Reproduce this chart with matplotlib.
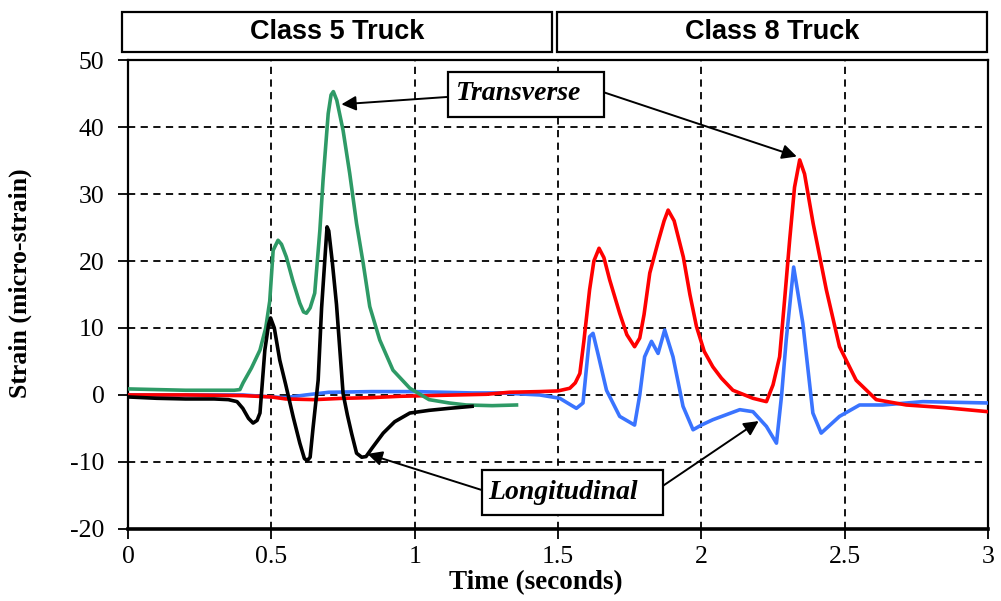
import matplotlib
matplotlib.use('Agg')
import matplotlib.pyplot as plt
from matplotlib.patches import Rectangle

plt.rcParams['axes.unicode_minus'] = False

# Class 5 truck - transverse (green)
c5_trans_t = [0, 0.1, 0.2, 0.3, 0.37, 0.39, 0.401, 0.43, 0.46, 0.48, 0.494, 0.506, 0.523, 0.535, 0.552,
              0.575, 0.599, 0.612, 0.622, 0.635, 0.651, 0.669, 0.68, 0.698, 0.708, 0.716, 0.728, 0.75,
              0.773, 0.797, 0.82, 0.843, 0.878, 0.924, 0.983, 1.05, 1.12, 1.18, 1.27, 1.355]
c5_trans_v = [0.9, 0.8, 0.7, 0.7, 0.7, 0.8, 1.8, 4, 6.7, 10, 14, 21.6, 23.1, 22.5, 20.6,
              17, 13.7, 12.4, 12.2, 13, 15.2, 24.6, 32, 42, 44.8, 45.3, 44, 39.5,
              33.1, 25.6, 19.7, 13.2, 8.2, 3.7, 1.0, -0.7, -1.2, -1.5, -1.6, -1.5]

# Class 5 truck - longitudinal (black)
c5_long_t = [0, 0.1, 0.2, 0.3, 0.35, 0.38, 0.40, 0.42, 0.436, 0.45, 0.46, 0.477, 0.49, 0.497, 0.51,
             0.529, 0.55, 0.576, 0.599, 0.615, 0.625, 0.635, 0.645, 0.663, 0.675, 0.694, 0.70, 0.712,
             0.727, 0.75, 0.765, 0.78, 0.797, 0.815, 0.83, 0.85, 0.89, 0.93, 0.983, 1.05, 1.12, 1.2]
c5_long_v = [-0.3, -0.5, -0.6, -0.6, -0.7, -1.0, -2.0, -3.5, -4.2, -3.8, -2.7, 6.7, 10.5, 11.5, 10,
             5.2, 1.5, -3.3, -7.2, -9.5, -9.8, -9.3, -5, 2.2, 13, 25.1, 24.5, 20,
             13.5, 0.2, -3.0, -5.8, -8.7, -9.3, -9.2, -8.0, -5.7, -4.0, -2.7, -2.3, -2.0, -1.7]

# Class 8 truck - transverse (red)
c8_trans_t = [0, 0.2, 0.4, 0.5, 0.55, 0.65, 0.75, 0.85, 0.95, 1.05, 1.15, 1.25, 1.33, 1.436, 1.50,
              1.541, 1.56, 1.576, 1.59, 1.61, 1.625, 1.643, 1.66, 1.68, 1.715, 1.74, 1.767, 1.785, 1.80,
              1.82, 1.85, 1.87, 1.884, 1.905, 1.937, 1.96, 1.983, 2.01, 2.04, 2.07, 2.11, 2.18, 2.227,
              2.25, 2.273, 2.29, 2.308, 2.325, 2.343, 2.36, 2.39, 2.436, 2.482, 2.54, 2.61, 2.715,
              2.85, 3.0]
c8_trans_v = [0, 0, -0.1, -0.3, -0.6, -0.7, -0.5, -0.4, -0.2, -0.1, 0, 0.1, 0.4, 0.5, 0.6,
              1.0, 1.8, 3.2, 8, 15.7, 20, 21.9, 20.5, 17.2, 12.2, 9, 7.2, 8.5, 12,
              18.2, 23, 26, 27.6, 26, 20.6, 15, 10.2, 6.5, 4.2, 2.5, 0.7, -0.5, -1.0,
              1.5, 5.7, 14, 23.1, 31, 35.1, 33, 25.6, 15.7, 7.2, 2.2, -0.7, -1.5,
              -1.9, -2.5]

# Class 8 truck - longitudinal (blue)
c8_long_t = [0, 0.2, 0.4, 0.5, 0.55, 0.62, 0.7, 0.85, 1.0, 1.1, 1.2, 1.3, 1.436, 1.506, 1.564, 1.587,
             1.61, 1.622, 1.64, 1.669, 1.715, 1.767, 1.785, 1.802, 1.826, 1.849, 1.872, 1.901, 1.936,
             1.971, 2.0, 2.04, 2.134, 2.18, 2.227, 2.262, 2.28, 2.296, 2.322, 2.354, 2.389, 2.418,
             2.482, 2.552, 2.633, 2.773, 3.0]
c8_long_v = [0, 0, 0, -0.3, -0.4, 0, 0.4, 0.5, 0.5, 0.4, 0.3, 0.3, 0, -0.5, -2.0, -1.2,
             8.7, 9.2, 6, 0.7, -3.2, -4.5, 0, 5.7, 8.0, 6.2, 9.7, 5.7, -1.7,
             -5.2, -4.5, -3.7, -2.2, -2.5, -4.7, -7.2, 0, 8.2, 19.1, 10.7, -2.7, -5.7,
             -3.2, -1.5, -1.5, -1.0, -1.2]

x_ticks = [0, 0.5, 1, 1.5, 2, 2.5, 3]
x_tick_labels = ['0', '0.5', '1', '1.5', '2', '2.5', '3']
y_ticks = [-20, -10, 0, 10, 20, 30, 40, 50]
headers = ['Class 5 Truck', 'Class 8 Truck']

serif = 'Liberation Serif'

fig = plt.figure(figsize=(10.01, 6.01), dpi=100)
ax = fig.add_axes([0.128, 0.120, 0.859, 0.780])

lw = 2.6
ax.plot(c8_long_t, c8_long_v, color='#3a74ff', lw=lw, zorder=3)
ax.plot(c8_trans_t, c8_trans_v, color='#ff0000', lw=lw, zorder=4)
ax.plot(c5_trans_t, c5_trans_v, color='#2e9a66', lw=lw, zorder=5)
ax.plot(c5_long_t, c5_long_v, color='black', lw=lw, zorder=6)

ax.set_xlim(0, 3)
ax.set_ylim(-20, 50)
ax.set_xticks(x_ticks)
ax.set_xticklabels(x_tick_labels)
ax.set_yticks(y_ticks)
ax.tick_params(axis='both', direction='out', length=7, width=1.3, labelsize=18.5)
ax.tick_params(axis='y', pad=10)
ax.tick_params(axis='x', pad=5)
for lab in ax.get_xticklabels() + ax.get_yticklabels():
    lab.set_family(serif)
ax.grid(True, color='black', linestyle=(0, (4, 3)), linewidth=1.3)
for s in ax.spines.values():
    s.set_linewidth(1.6)
ax.spines['bottom'].set_linewidth(2.6)

ax.set_xlabel('Time (seconds)', family=serif, fontweight='bold', fontsize=19.5)
ax.xaxis.set_label_coords(0.474, -0.088)
ax.set_ylabel('Strain (micro-strain)', family=serif, fontweight='bold', fontsize=18.5)
ax.yaxis.set_label_coords(-0.112, 0.525)

# annotation boxes
ax.add_patch(Rectangle((1.115, 41.5), 0.544, 6.7, fc='white', ec='black', lw=1.6, zorder=8))
ax.text(1.363, 45.0, 'Transverse', family=serif, style='italic', fontweight='bold',
        fontsize=20, ha='center', va='center', zorder=9)
ax.add_patch(Rectangle((1.234, -17.9), 0.631, 6.7, fc='white', ec='black', lw=1.6, zorder=8))
ax.text(1.516, -14.5, 'Longitudinal', family=serif, style='italic', fontweight='bold',
        fontsize=20, ha='center', va='center', zorder=9)

arr = dict(arrowstyle='-|>', color='black', lw=1.4, mutation_scale=22, shrinkA=0, shrinkB=0)
ax.annotate('', xy=(0.744, 43.4), xytext=(1.115, 44.5), arrowprops=arr, zorder=7)
ax.annotate('', xy=(2.333, 35.6), xytext=(1.659, 45.2), arrowprops=arr, zorder=7)
ax.annotate('', xy=(0.835, -8.8), xytext=(1.234, -14.2), arrowprops=arr, zorder=7)
ax.annotate('', xy=(2.20, -3.9), xytext=(1.865, -13.6), arrowprops=arr, zorder=7)

# header boxes above the plot
hx = [(0.122, 0.551), (0.556, 0.986)]
for (x0, x1), name in zip(hx, headers):
    fig.patches.append(Rectangle((x0, 0.913), x1 - x0, 0.067, transform=fig.transFigure,
                                 fill=False, ec='black', lw=1.6))
    fig.text((x0 + x1) / 2, 0.9465, name, family='Liberation Sans', fontweight='bold',
             fontsize=19.5, ha='center', va='center')

fig.savefig('out.png', dpi=100, facecolor='white')
